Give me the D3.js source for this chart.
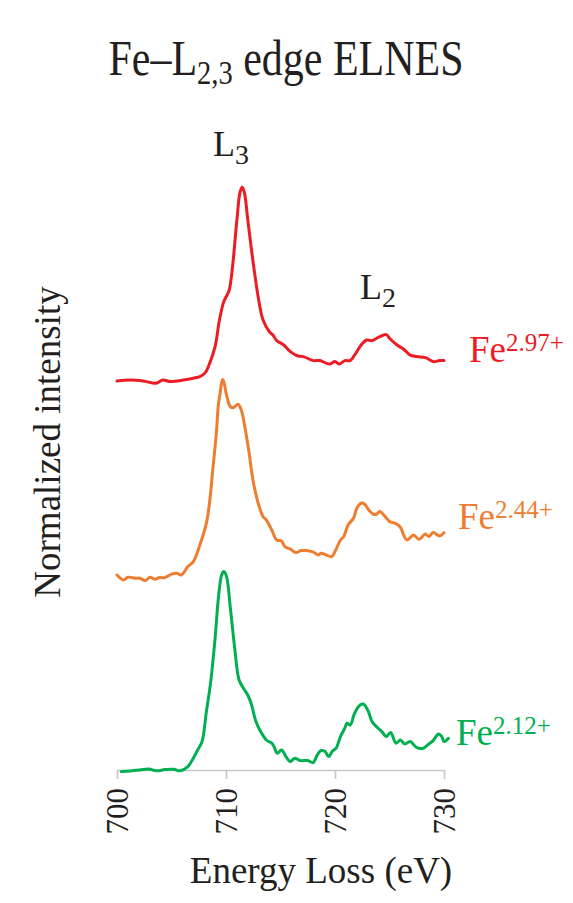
<!DOCTYPE html>
<html><head><meta charset="utf-8">
<script src="https://cdn.jsdelivr.net/npm/d3@7/dist/d3.min.js"></script>
<style>
body{margin:0;background:#fff}
svg{display:block}
text{font-family:"Liberation Serif","Times New Roman",serif;fill:#231f20}
</style>
</head><body>
<svg id="chart" width="573" height="903"></svg>
<script>
// ---- data ----
const xTicks = [700, 710, 720, 730];
const seriesNames = ["Fe2.97+", "Fe2.44+", "Fe2.12+"];
const seriesColors = ["#ec1c24", "#ed7d31", "#00b050"];

// Fe2.97+ (red, stacked top)
const redEnergy = [700.0,701.2,702.4,703.6,704.2,704.9,706.1,707.0,707.6,708.1,708.5,709.0,709.4,709.8,710.1,710.3,710.6,711.0,711.3,711.5,711.7,712.0,712.5,713.0,713.4,714.0,714.3,714.65,715.3,715.9,716.6,717.1,718.0,718.6,719.5,720.0,720.4,720.9,721.4,721.8,722.4,722.9,723.4,724.0,724.7,725.0,725.7,726.3,726.9,727.5,728.3,729.0,729.6,730.0];
const redIntensity = [1.945,1.950,1.945,1.934,1.950,1.942,1.950,1.959,1.967,1.987,2.034,2.117,2.250,2.342,2.375,2.400,2.517,2.750,2.892,2.914,2.884,2.750,2.534,2.350,2.250,2.190,2.175,2.147,2.125,2.092,2.070,2.067,2.047,2.047,2.030,2.042,2.030,2.047,2.047,2.075,2.125,2.150,2.147,2.164,2.177,2.159,2.125,2.104,2.074,2.067,2.062,2.042,2.047,2.047];

// Fe2.44+ (orange, stacked middle)
const orangeEnergy = [700.0,700.6,701.0,701.7,702.1,702.6,703.0,703.5,703.9,704.4,705.0,705.5,705.9,706.5,707.0,707.6,708.2,708.5,708.8,709.1,709.3,709.45,709.58,709.7,709.83,710.05,710.4,710.7,711.1,711.4,711.7,712.1,712.5,713.0,713.4,713.7,714.2,714.65,715.1,715.4,715.9,716.4,716.9,717.9,718.5,718.7,719.2,719.7,720.0,720.5,720.8,721.2,721.7,722.0,722.4,722.7,723.1,723.5,723.8,724.1,724.6,725.0,725.5,726.0,726.3,726.6,727.2,727.7,728.3,728.6,729.0,729.6,730.0];
const orangeIntensity = [0.975,0.950,0.964,0.959,0.959,0.947,0.964,0.954,0.962,0.962,0.979,0.984,0.975,1.017,1.042,1.125,1.234,1.342,1.509,1.675,1.825,1.880,1.932,1.953,1.935,1.875,1.817,1.812,1.829,1.800,1.725,1.592,1.442,1.325,1.267,1.250,1.200,1.150,1.145,1.117,1.105,1.087,1.097,1.092,1.075,1.084,1.075,1.067,1.092,1.150,1.167,1.225,1.259,1.309,1.334,1.330,1.300,1.280,1.279,1.292,1.267,1.242,1.234,1.214,1.175,1.150,1.175,1.154,1.180,1.167,1.187,1.170,1.187];

// Fe2.12+ (green, bottom)
const greenEnergy = [700.4,701.2,702.1,702.9,703.6,704.4,705.2,705.8,706.5,707.0,707.4,707.8,708.2,708.6,709.0,709.3,709.6,709.8,710.05,710.4,710.8,711.2,711.6,712.0,712.35,712.7,713.1,713.7,714.2,714.4,714.7,715.1,715.5,715.9,716.3,716.8,717.5,718.0,718.3,718.7,719.1,719.4,719.8,720.1,720.5,720.9,721.1,721.4,721.8,722.3,722.6,723.0,723.4,723.8,724.3,724.7,725.1,725.6,726.0,726.4,726.9,727.5,728.1,728.6,729.0,729.5,729.8,730.0,730.4];
const greenIntensity = [-0.008,-0.005,0.000,0.005,-0.004,0.002,0.004,-0.004,0.017,0.059,0.100,0.142,0.292,0.442,0.659,0.859,0.975,0.992,0.967,0.809,0.609,0.450,0.409,0.375,0.325,0.250,0.200,0.150,0.134,0.117,0.084,0.100,0.067,0.042,0.059,0.047,0.047,0.037,0.067,0.097,0.092,0.067,0.097,0.109,0.167,0.209,0.234,0.225,0.284,0.325,0.330,0.300,0.242,0.217,0.192,0.167,0.187,0.134,0.150,0.130,0.142,0.112,0.109,0.130,0.147,0.180,0.167,0.142,0.158];

const labelSuperscripts = ["2.97+", "2.44+", "2.12+"];

// ---- chart ----
const svg = d3.select("#chart");
const x = d3.scaleLinear().domain([700, 730]).range([117, 444]);
const y = d3.scaleLinear().domain([0, 3]).range([770, 170]);

// title (slightly condensed, as in the reference)
const title = svg.append("text").attr("transform", "translate(286,75) scale(0.84,1)")
  .attr("text-anchor", "middle").style("font-size", "50px");
title.append("tspan").text("Fe–L");
title.append("tspan").attr("dy", 9).style("font-size", "34px").text("2,3");
title.append("tspan").attr("dy", -9).text(" edge ELNES");

// x axis
const axis = d3.axisBottom(x).tickValues(xTicks).tickSize(9).tickSizeOuter(0).tickFormat(d3.format("d"));
const gx = svg.append("g").attr("transform", "translate(0,770)").call(axis);
gx.select(".domain").attr("stroke", "#c6c6c6").attr("stroke-width", 1.6);
gx.selectAll(".tick line").attr("stroke", "#c6c6c6").attr("stroke-width", 1.6);
gx.selectAll(".tick text")
  .attr("transform", "rotate(-90)")
  .attr("x", -18).attr("y", 0).attr("dy", "0.34em")
  .attr("text-anchor", "end")
  .style("font-family", "'Liberation Serif','Times New Roman',serif")
  .style("font-size", "31px").attr("fill", "#231f20");

svg.append("text").attr("x", 321).attr("y", 883).attr("text-anchor", "middle")
  .style("font-size", "37px").text("Energy Loss (eV)");

svg.append("text").attr("transform", "translate(60,442) rotate(-90)")
  .attr("text-anchor", "middle").style("font-size", "37px").text("Normalized intensity");

// lines
const series = [
  {e: redEnergy, v: redIntensity},
  {e: orangeEnergy, v: orangeIntensity},
  {e: greenEnergy, v: greenIntensity}
];
const line = d3.line().x(d => x(d[0])).y(d => y(d[1])).curve(d3.curveCatmullRom.alpha(0.5));
series.forEach((s, i) => {
  const pts = s.e.map((e, k) => [e, s.v[k]]);
  svg.append("path").datum(pts).attr("d", line)
    .attr("fill", "none").attr("stroke", seriesColors[i])
    .attr("stroke-width", 3).attr("stroke-linejoin", "round").attr("stroke-linecap", "round");
});

// peak labels
const l3 = svg.append("text").attr("x", 213).attr("y", 156).style("font-size", "36px");
l3.append("tspan").text("L");
l3.append("tspan").attr("dy", 8).style("font-size", "28px").text("3");
const l2 = svg.append("text").attr("x", 360).attr("y", 299).style("font-size", "36px");
l2.append("tspan").text("L");
l2.append("tspan").attr("dy", 8).style("font-size", "28px").text("2");

// series labels
const labelPos = [[469, 362], [458, 529], [456, 745]];
labelPos.forEach((p, i) => {
  const t = svg.append("text").attr("x", p[0]).attr("y", p[1]).style("font-size", "37px").style("fill", seriesColors[i]);
  t.append("tspan").text("Fe");
  t.append("tspan").attr("dy", -11).style("font-size", "25px").text(labelSuperscripts[i]);
});
</script>
</body></html>
